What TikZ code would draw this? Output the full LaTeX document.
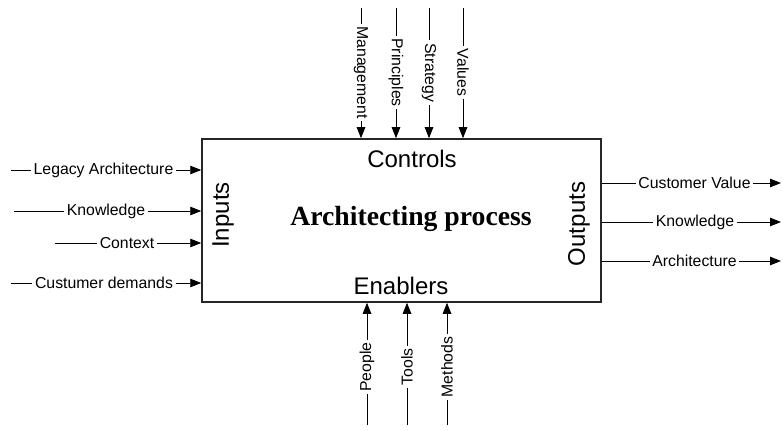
\documentclass[tikz,border=0pt]{standalone}
\usepackage{fontspec}
\setmainfont{Liberation Sans}
\newfontfamily\titleserif{Liberation Serif}
\usetikzlibrary{arrows.meta}
\begin{document}
\begin{tikzpicture}[x=1pt,y=-1pt,
  flow/.style={line width=0.9pt},
  arr/.style={flow,-{Triangle[length=11pt,width=8.5pt]}},
  lbl/.style={inner xsep=2.5pt,inner ysep=0pt,font=\fontsize{15.8}{18}\selectfont},
  side/.style={inner sep=0pt,font=\fontsize{24}{28}\selectfont}]
\useasboundingbox (0,0) rectangle (783,430);

% the process box and its inner texts
\node[draw=black!85,line width=1.5pt,minimum width=399pt,minimum height=163pt,inner sep=0pt] (box) at (401.5,220.5) {};
\node[side] (ctl) at (412,159) {Controls};
\node[side] (enb) at (401,286) {Enablers};
\node[side,rotate=90] (inp) at (223,215) {Inputs};
\node[side,rotate=90] (outp) at (579,224) {Outputs};
\node[inner sep=0pt,font=\titleserif\bfseries\fontsize{27.7}{32}\selectfont] (title) at (411,219) {Architecting process};

% inputs, entering from the left
\foreach \sx/\y/\lx/\t [count=\i] in {11/170/103.5/Legacy Architecture,14/211/106/Knowledge,55/243/127/Context,11/283/104/Custumer demands}{
  \coordinate (in\i) at (\sx,\y);
  \node[lbl] (li\i) at (\lx,\y) {\t};
  \draw[flow] (in\i) -- (li\i);
  \draw[arr] (li\i) -- (li\i -| box.west);
}

% outputs, leaving to the right
\foreach \y/\lx/\t [count=\i] in {183/694.5/Customer Value,222/695/Knowledge,261/694.5/Architecture}{
  \coordinate (out\i) at (781,\y);
  \node[lbl] (lo\i) at (\lx,\y) {\t};
  \draw[flow] (lo\i -| box.east) -- (lo\i);
  \draw[arr] (lo\i) -- (out\i);
}

% controls, coming down from the top
\foreach \x/\t [count=\i] in {361/Management,396/Principles,429/Strategy,463/Values}{
  \coordinate (ct\i) at (\x,8);
  \node[lbl,rotate=-90] (lc\i) at (\x,72.5) {\t};
  \draw[flow] (ct\i) -- (lc\i);
  \draw[arr] (lc\i) -- (lc\i |- box.north);
}

% enablers, coming up from the bottom
\foreach \x/\t [count=\i] in {367/People,407/Tools,447/Methods}{
  \coordinate (en\i) at (\x,425);
  \node[lbl,rotate=90] (le\i) at (\x,367) {\t};
  \draw[flow] (en\i) -- (le\i);
  \draw[arr] (le\i) -- (le\i |- box.south);
}
\end{tikzpicture}
\end{document}
